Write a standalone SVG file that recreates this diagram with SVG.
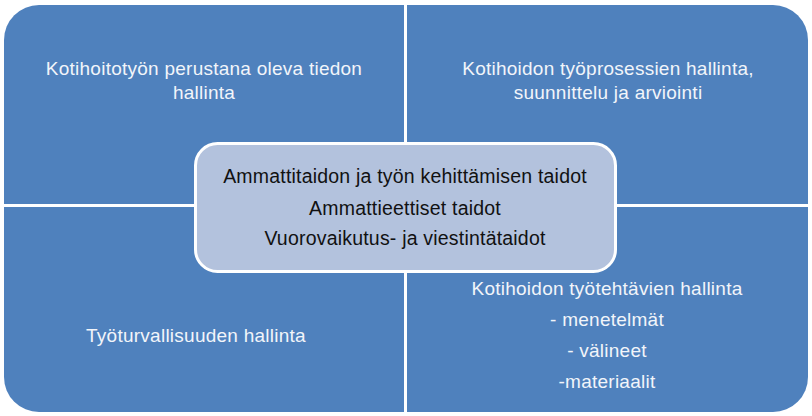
<svg xmlns="http://www.w3.org/2000/svg" width="812" height="416" viewBox="0 0 812 416">
<style>
.q{fill:#4F81BD;}
.qt{font-family:"Liberation Sans",Arial,sans-serif;font-size:19px;letter-spacing:0.25px;fill:#F2F5FA;text-anchor:middle;}
.ct{font-family:"Liberation Sans",Arial,sans-serif;font-size:19.5px;letter-spacing:0.2px;fill:#111111;text-anchor:middle;}
.c{fill:#B3C2DD;stroke:#FFFFFF;stroke-width:3;}
</style>
<rect width="812" height="416" fill="#FFFFFF"/>
<g id="q-top-left">
<path class="q" d="M4 40 A35 35 0 0 1 39 5 L404 5 L404 204 L4 204 Z"/>
<text class="qt" x="204" y="75">Kotihoitotyön perustana oleva tiedon</text>
<text class="qt" x="204" y="99">hallinta</text>
</g>
<g id="q-top-right">
<path class="q" d="M407 5 L773 5 A35 35 0 0 1 808 40 L808 204 L407 204 Z"/>
<text class="qt" x="608" y="75">Kotihoidon työprosessien hallinta,</text>
<text class="qt" x="608" y="99">suunnittelu ja arviointi</text>
</g>
<g id="q-bottom-left">
<path class="q" d="M4 207 L404 207 L404 412 L39 412 A35 35 0 0 1 4 377 Z"/>
<text class="qt" x="196" y="342">Työturvallisuuden hallinta</text>
</g>
<g id="q-bottom-right">
<path class="q" d="M407 207 L808 207 L808 377 A35 35 0 0 1 773 412 L407 412 Z"/>
<text class="qt" x="607" y="295">Kotihoidon työtehtävien hallinta</text>
<text class="qt" x="607" y="326">- menetelmät</text>
<text class="qt" x="607" y="357">- välineet</text>
<text class="qt" x="607" y="388">-materiaalit</text>
</g>
<g id="center">
<rect class="c" x="195.5" y="143.5" width="420" height="128" rx="22" ry="22"/>
<text class="ct" x="405" y="183">Ammattitaidon ja työn kehittämisen taidot</text>
<text class="ct" x="405" y="215">Ammattieettiset taidot</text>
<text class="ct" x="405" y="245">Vuorovaikutus- ja viestintätaidot</text>
</g>
<g id="connectors"></g>
</svg>
